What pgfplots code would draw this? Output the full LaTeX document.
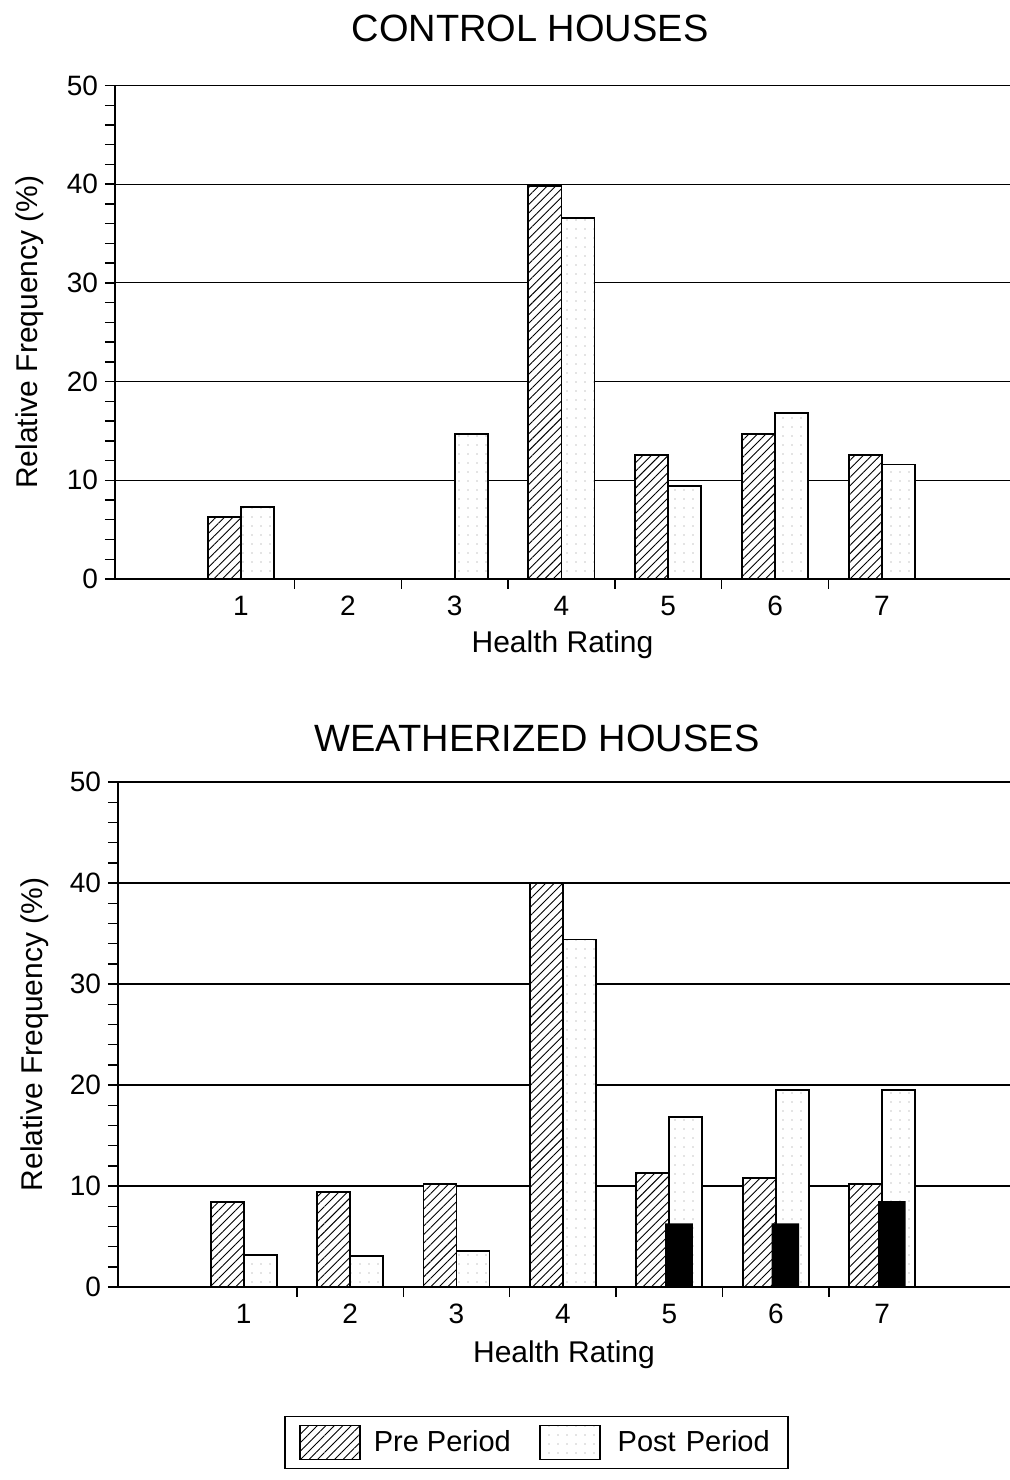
\documentclass[border=0pt]{standalone}
\usepackage{fontspec}
\setmainfont{Liberation Sans}
\usepackage{pgfplots}
\pgfplotsset{compat=1.18}
\usetikzlibrary{patterns.meta}

\pgfplotsset{
  hbase/.style={
    scale only axis,
    xmin=-0.18, xmax=8.2, ymin=0, ymax=50,
    ybar,
    axis x line*=bottom, axis y line*=left,
    axis line style={line width=0.8pt},
    xtick={1,...,7}, minor xtick={1.5,2.5,...,6.5},
    ytick={0,10,...,50}, minor y tick num=4,
    tick align=outside, major tick length=5pt, minor tick length=5pt,
    tick style={black, line width=0.7pt},
    major x tick style={draw=none},
    ymajorgrids, major grid style={black,line width=0.6pt},
    /pgf/number format/assume math mode=true,
    tick label style={font=\fontsize{14}{16}\selectfont},
    label style={font=\fontsize{15}{18}\selectfont},
    xlabel={Health Rating}, ylabel={Relative Frequency (\%)},
  },
  pre/.style={draw=black, line width=0.9pt, fill=white,
    postaction={pattern={Lines[angle=45,distance=3pt,line width=0.45pt]}},
    bar width=0.31, bar shift=-0.155,
    legend image code/.code={\draw[##1] (0pt,-8.5pt) rectangle (30pt,8.5pt);
      \pgfpathmoveto{\pgfpoint{35pt}{0pt}}\pgfusepath{}}},
  post/.style={draw=black, line width=0.9pt, fill=white,
    postaction={pattern color=black!45, pattern={Dots[distance=4.5pt,radius=0.35pt]}},
    bar width=0.31, bar shift=0.155,
    legend image code/.code={\draw[##1] (0pt,-8.5pt) rectangle (30pt,8.5pt);
      \pgfpathmoveto{\pgfpoint{37pt}{0pt}}\pgfusepath{}}},
}

\begin{document}
\begin{tikzpicture}
\useasboundingbox (0,0) rectangle (505pt,740pt);

\node[font=\fontsize{19}{22}\selectfont] at (265pt,726pt) {CONTROL HOUSES};
\node[font=\fontsize{19}{22}\selectfont] at (268.5pt,371pt) {WEATHERIZED HOUSES};

% Top: control houses
\begin{axis}[hbase,
  at={(57.5pt,450.5pt)}, anchor=south west,
  width=447.5pt, height=246.75pt,
  xlabel style={at={(axis description cs:0.5,-0.134)}, anchor=center},
  ylabel style={at={(axis description cs:-0.095,0.5)}, anchor=center},
]
\addplot[pre] coordinates {(1,6.3) (4,39.8) (5,12.6) (6,14.7) (7,12.6)};
\addplot[post] coordinates {(1,7.3) (3,14.7) (4,36.6) (5,9.4) (6,16.8) (7,11.6)};
\end{axis}

% Bottom: weatherized houses
\begin{axis}[hbase,
  at={(59pt,96.5pt)}, anchor=south west,
  width=446pt, height=252.5pt,
  xlabel style={at={(axis description cs:0.5,-0.135)}, anchor=center},
  ylabel style={at={(axis description cs:-0.093,0.5)}, anchor=center},
  legend style={at={(axis description cs:0.469,-0.308)}, anchor=center,
    draw=black, line width=0.8pt, legend columns=2,
    font=\fontsize{14.5}{17}\selectfont, inner xsep=7pt, inner ysep=4pt,
    /tikz/every even column/.append style={column sep=12pt}},
]
\addplot[pre] coordinates {(1,8.4) (2,9.4) (3,10.2) (4,40.0) (5,11.3) (6,10.8) (7,10.2)};
\addlegendentry{Pre Period}
\addplot[post] coordinates {(1,3.2) (2,3.1) (3,3.6) (4,34.4) (5,16.8) (6,19.5) (7,19.5)};
\addlegendentry{Post\hspace{0.35em}Period\hspace{16pt}}
\addplot[draw=none, fill=black, bar width=0.26, bar shift=0.09, forget plot]
  coordinates {(5,6.3) (6,6.3) (7,8.5)};
\end{axis}
\end{tikzpicture}
\end{document}
